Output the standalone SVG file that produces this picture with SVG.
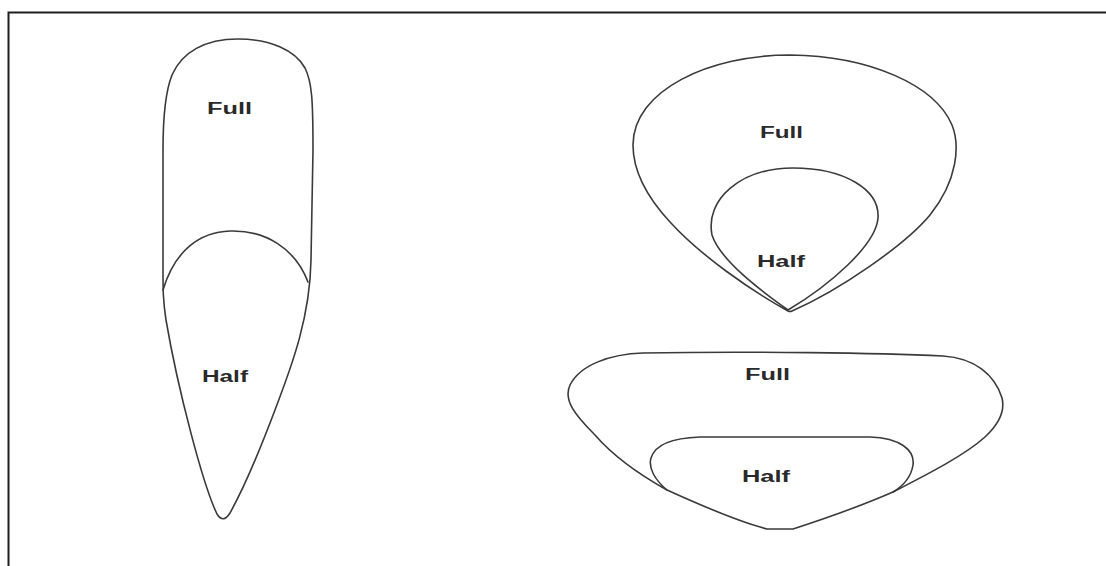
<svg xmlns="http://www.w3.org/2000/svg" width="1106" height="566" viewBox="0 0 1106 566">
  <style>
    .outline { fill: none; stroke: #3a3a3a; stroke-width: 1.6; stroke-linejoin: round; stroke-linecap: round; }
    .frame { fill: none; stroke: #1e1e1e; stroke-width: 2; }
    .lbl { font-family: "Liberation Sans", Arial, sans-serif; font-size: 16px; font-weight: bold; fill: #2a2a2a; }
  </style>
  <rect width="1106" height="566" fill="#ffffff"/>

  <!-- page frame (open to the right and bottom) -->
  <g id="frame">
    <path class="frame" d="M 8.5,566 L 8.5,12.5 L 1106,12.5"/>
  </g>

  <!-- tall tapered shape -->
  <g id="shape-tall">
    <path class="outline" d="M 238,39 C 270,39 295,50 305,68 C 312,82 313,100 313,150 L 311,260 C 310,320 290,370 275,410 C 258,455 240,495 230,513 Q 223,524 217,514 C 203,485 178,390 166,320 C 163,300 163,290 163,270 L 163,150 C 163,115 166,90 172,75 C 182,52 205,39 238,39 Z"/>
    <path class="outline" d="M 163,290 C 175,250 200,232 230,231 C 265,230 295,248 308,282"/>
    <text class="lbl" x="207" y="114" textLength="45" lengthAdjust="spacingAndGlyphs">Full</text>
    <text class="lbl" x="202" y="382" textLength="46" lengthAdjust="spacingAndGlyphs">Half</text>
  </g>

  <!-- rounded triangular shape -->
  <g id="shape-round">
    <path class="outline" d="M 790,55 C 870,56 935,85 952,125 C 960,145 958,180 930,215 C 905,245 840,290 792,311 Q 790,312 788,311 C 750,290 700,255 670,222 C 645,195 633,170 633,145 C 633,90 710,55 790,55 Z"/>
    <path class="outline" d="M 788,310 C 760,290 720,260 712,235 C 705,200 740,168 793,168 C 845,168 880,190 878,218 C 876,245 830,285 788,310 Z"/>
    <text class="lbl" x="760" y="138" textLength="43" lengthAdjust="spacingAndGlyphs">Full</text>
    <text class="lbl" x="757" y="267" textLength="48" lengthAdjust="spacingAndGlyphs">Half</text>
  </g>

  <!-- wide flat shape -->
  <g id="shape-wide">
    <path class="outline" d="M 643,353 C 750,351 880,353 943,356 C 975,358 995,375 1002,398 C 1005,410 1000,423 985,437 C 965,455 930,473 893,492 C 870,502 830,517 793,529 L 767,529 C 740,522 700,505 667,490 C 640,475 615,458 595,435 C 575,415 563,400 570,385 C 580,365 610,354 643,353 Z"/>
    <path class="outline" d="M 667,490 C 655,480 648,468 651,458 C 655,445 670,438 700,437 L 870,437 C 900,438 915,450 913,465 C 911,478 903,486 893,492"/>
    <text class="lbl" x="745" y="380" textLength="45" lengthAdjust="spacingAndGlyphs">Full</text>
    <text class="lbl" x="742" y="482" textLength="48" lengthAdjust="spacingAndGlyphs">Half</text>
  </g>
</svg>
